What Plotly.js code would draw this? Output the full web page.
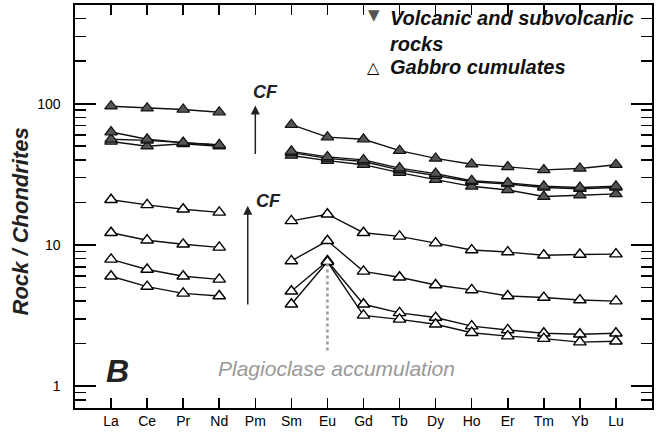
<!DOCTYPE html>
<html><head><meta charset="utf-8">
<script src="https://cdn.plot.ly/plotly-3.0.1.min.js"></script>
<style>html,body{margin:0;padding:0;background:#fff}</style>
</head><body><div id="chart" style="width:665px;height:440px"></div>
<script>
const elements = ['La','Ce','Pr','Nd','Pm','Sm','Eu','Gd','Tb','Dy','Ho','Er','Tm','Yb','Lu'];
const volcanic1 = [96,93,91,87,null,71,58,56,46.5,41,37.3,35.7,34,34.8,37];
const volcanic2 = [63,56,53,51,null,46,42,40,35,32,28.5,27.5,26,25.5,26];
const volcanic3 = [56,55,53,51,null,45,41,39,34,31,28,27,25.5,25,25.5];
const volcanic4 = [54,50,52,50,null,43,39.5,37,32.5,29,26,24.5,22,22.5,23];
const gabbro1 = [20.9,19.2,17.9,17,null,14.8,16.5,12.2,11.5,10.3,9.2,8.9,8.45,8.55,8.6];
const gabbro2 = [12.2,10.8,10.1,9.6,null,7.7,10.7,6.5,5.9,5.2,4.8,4.35,4.24,4.07,4.0];
const gabbro3 = [7.9,6.7,6.0,5.7,null,4.7,7.7,3.8,3.3,3.06,2.66,2.5,2.37,2.33,2.37];
const gabbro4 = [6.0,5.07,4.54,4.35,null,3.8,7.6,3.17,2.97,2.74,2.39,2.26,2.17,2.05,2.08];
const yTickVals = [1,10,100];
const yTickText = ['1','10','100'];
const yMinorVals = [0.7,0.8,0.9,2,3,4,5,6,7,8,9,20,30,40,50,60,70,80,90,200,300,400,500];
const legendLabels = ['Volcanic and subvolcanic<br>rocks', 'Gabbro cumulates'];

const FONT = 'Liberation Sans, Arial, Helvetica, sans-serif';
const volcMarker = {symbol:'triangle-up', size:11, color:'#555555', line:{color:'#111', width:1.2}};
const gabMarker = {symbol:'triangle-up', size:11, color:'#ffffff', line:{color:'#000', width:1.4}};
const lineStyle = {color:'#111', width:1.4};

const traces = [];
[gabbro1,gabbro2,gabbro3,gabbro4].forEach(s => traces.push({
  x: elements, y: s, type:'scatter', mode:'lines+markers', connectgaps:false,
  line: lineStyle, marker: gabMarker, showlegend:false, hoverinfo:'skip'
}));
[volcanic4,volcanic3,volcanic2,volcanic1].forEach(s => traces.push({
  x: elements, y: s, type:'scatter', mode:'lines+markers', connectgaps:false,
  line: lineStyle, marker: volcMarker, showlegend:false, hoverinfo:'skip'
}));

const L = Math.log10;
const legFont = {family:FONT, size:20, weight:'bold', style:'italic', color:'#111'};
const layout = {
  width:665, height:440,
  margin:{l:75, r:13, t:5, b:32},
  paper_bgcolor:'#fff', plot_bgcolor:'#fff',
  font:{family:FONT, color:'#000', size:12},
  showlegend:false,
  xaxis:{type:'category', range:[-1,15], showgrid:false, zeroline:false,
    showline:true, linecolor:'#000', linewidth:1.6, mirror:'ticks',
    ticks:'inside', ticklen:10, tickwidth:1.6, tickcolor:'#000',
    tickfont:{family:FONT, size:14}, fixedrange:true},
  yaxis:{type:'log', range:[L(0.7), L(500)], showgrid:false, zeroline:false,
    showline:true, linecolor:'#000', linewidth:1.6, mirror:'ticks',
    tickmode:'array', tickvals:yTickVals, ticktext:yTickText,
    ticks:'inside', ticklen:21, tickwidth:1.6, tickcolor:'#000',
    minor:{tickmode:'array', tickvals:yMinorVals, ticks:'inside', ticklen:11, tickwidth:1.6, tickcolor:'#000', showgrid:false},
    tickfont:{family:FONT, size:14}, ticklabelstandoff:10,
    fixedrange:true},
  shapes:[
    {type:'line', xref:'x', yref:'y', x0:'Eu', x1:'Eu', y0:7.4, y1:1.73,
     line:{color:'#999', width:2.5, dash:'dot'}}
  ],
  annotations:[
    {xref:'paper', yref:'paper', x:-0.0945, y:0.464, text:'Rock / Chondrites', textangle:-90, showarrow:false,
     xanchor:'center', yanchor:'middle', font:{family:FONT, size:22, weight:'bold', style:'italic', color:'#222'}},
    {xref:'x', yref:'y', x:4, y:L(97), ax:4, ay:L(43), axref:'x', ayref:'y', text:'', showarrow:true,
     arrowhead:2, arrowsize:1.2, arrowwidth:1.5, arrowcolor:'#222'},
    {xref:'x', yref:'y', x:3.79, y:L(18.9), ax:3.79, ay:L(3.69), axref:'x', ayref:'y', text:'', showarrow:true,
     arrowhead:2, arrowsize:1.2, arrowwidth:1.5, arrowcolor:'#222'},
    {xref:'x', yref:'y', x:4.27, y:2.083, text:'CF', showarrow:false,
     font:{family:FONT, size:18, weight:'bold', style:'italic', color:'#222'}},
    {xref:'x', yref:'y', x:4.37, y:1.31, text:'CF', showarrow:false,
     font:{family:FONT, size:18, weight:'bold', style:'italic', color:'#222'}},
    {xref:'x', yref:'y', x:6.26, y:0.126, text:'Plagioclase accumulation', showarrow:false,
     font:{family:FONT, size:21, style:'italic', color:'#999'}},
    {xref:'x', yref:'y', x:0.18, y:0.105, text:'B', showarrow:false,
     font:{family:FONT, size:32, weight:'bold', style:'italic', color:'#222'}},
    {xref:'paper', yref:'paper', x:0.518, y:0.974, xanchor:'center', yanchor:'middle', text:'▼', showarrow:false,
     font:{family:'DejaVu Sans', size:15, color:'#555'}},
    {xref:'paper', yref:'paper', x:0.518, y:0.846, xanchor:'center', yanchor:'middle', text:'△', showarrow:false,
     font:{family:'DejaVu Sans', size:16, color:'#000'}},
    {xref:'paper', yref:'paper', x:0.5425, y:1.0, xanchor:'left', yanchor:'top', align:'left',
     text:legendLabels[0], showarrow:false, font:legFont},
    {xref:'paper', yref:'paper', x:0.5425, y:0.846, xanchor:'left', yanchor:'middle', align:'left',
     text:legendLabels[1], showarrow:false, font:legFont}
  ]
};
Plotly.newPlot('chart', traces, layout, {displayModeBar:false, staticPlot:true});
</script></body></html>
